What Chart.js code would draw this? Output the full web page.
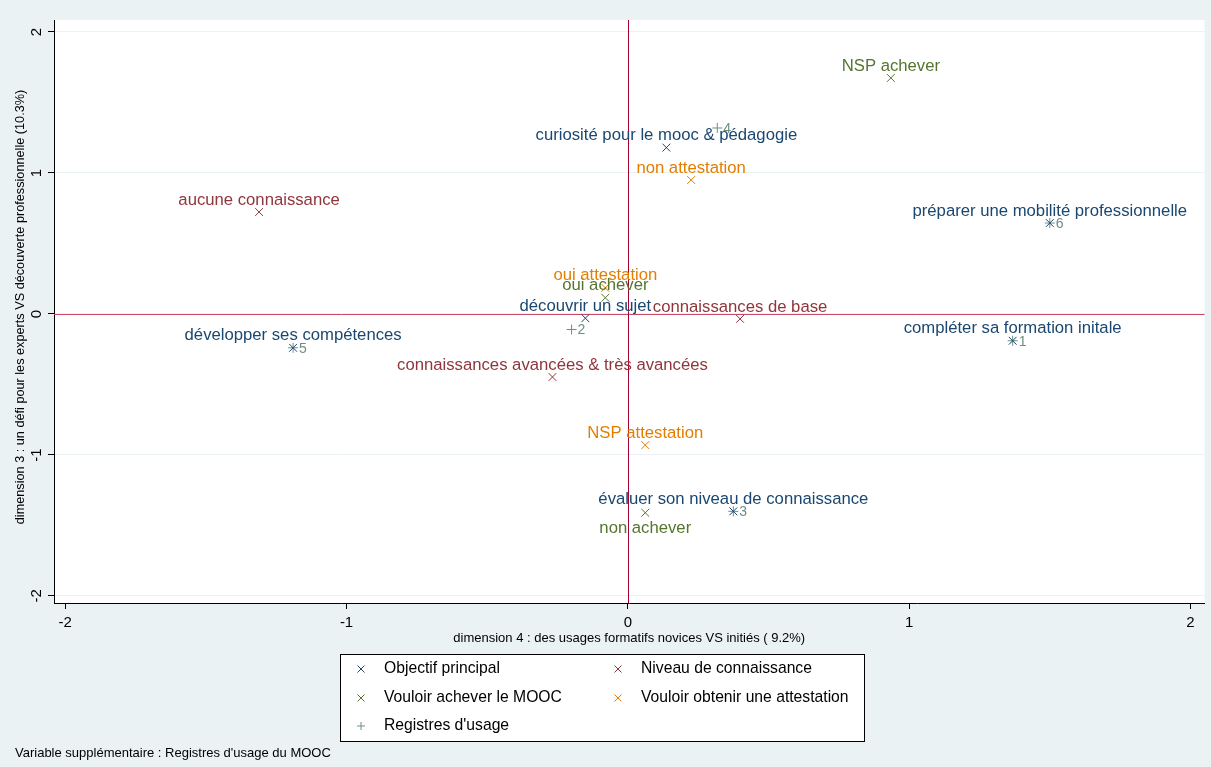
<!DOCTYPE html>
<html>
<head>
<meta charset="utf-8">
<script src="https://cdn.jsdelivr.net/npm/chart.js@4.4.0/dist/chart.umd.min.js"></script>
<style>
html, body { margin: 0; padding: 0; background: #eaf2f3; }
#wrap { width: 1211px; height: 767px; position: relative; }
</style>
</head>
<body>
<div id="wrap"><canvas id="acm" width="1211" height="767"></canvas></div>
<script>
// coordonnées ACM
const objLabels = ['curiosité pour le mooc & pédagogie', 'découvrir un sujet', 'préparer une mobilité professionnelle', 'compléter sa formation initale', 'développer ses compétences', 'évaluer son niveau de connaissance'];
const objX = [0.137, -0.151, 1.50, 1.368, -1.19, 0.375];
const objY = [1.18, -0.03, 0.645, -0.19, -0.24, -1.40];

const nivLabels = ['aucune connaissance', 'connaissances de base', 'connaissances avancées & très avancées'];
const nivX = [-1.311, 0.399, -0.268];
const nivY = [0.723, -0.035, -0.447];

const achLabels = ['NSP achever', 'oui achever', 'non achever'];
const achX = [0.935, -0.08, 0.062];
const achY = [1.674, 0.115, -1.41];
const achPos = [12, 12, 6];

const attLabels = ['non attestation', 'oui attestation', 'NSP attestation'];
const attX = [0.225, -0.08, 0.062];
const attY = [0.95, 0.185, -0.93];

const regLabels = ['1', '2', '3', '4', '5', '6'];
const regX = [1.368, -0.20, 0.375, 0.318, -1.19, 1.50];
const regY = [-0.19, -0.11, -1.40, 1.319, -0.24, 0.645];

const tickVals = [-2, -1, 0, 1, 2];

const legendNames = ['Objectif principal', 'Niveau de connaissance', 'Vouloir achever le MOOC', 'Vouloir obtenir une attestation', "Registres d'usage"];
const note = "Variable supplémentaire : Registres d'usage du MOOC";

const colors = ['#1a476f', '#90353b', '#55752f', '#e37e00', '#6e8e84'];
const sans = '"Liberation Sans", Arial, sans-serif';
const labelFont = '16.7px ' + sans;

const toPts = (xs, ys) => xs.map((x, i) => ({x: x, y: ys[i]}));

const groups = [
    {labels: objLabels, pts: toPts(objX, objY), pos: objLabels.map(() => 12), style: 'crossRot'},
    {labels: nivLabels, pts: toPts(nivX, nivY), pos: nivLabels.map(() => 12), style: 'crossRot'},
    {labels: achLabels, pts: toPts(achX, achY), pos: achPos, style: 'crossRot'},
    {labels: attLabels, pts: toPts(attX, attY), pos: attLabels.map(() => 12), style: 'crossRot'},
    {labels: regLabels, pts: toPts(regX, regY), pos: regLabels.map(() => 3), style: 'cross'}
];

const backdrop = {
    id: 'backdrop',
    beforeDraw(chart) {
        const {ctx, chartArea} = chart;
        ctx.save();
        ctx.fillStyle = '#eaf2f3';
        ctx.fillRect(0, 0, chart.width, chart.height);
        ctx.fillStyle = '#ffffff';
        ctx.fillRect(chartArea.left, chartArea.top, chartArea.right - chartArea.left, chartArea.bottom - chartArea.top);
        ctx.restore();
    },
    beforeDatasetsDraw(chart) {
        const {ctx, chartArea, scales} = chart;
        const x0 = Math.round(scales.x.getPixelForValue(0)) + 0.5;
        const y0 = Math.round(scales.y.getPixelForValue(0)) + 0.5;
        ctx.save();
        ctx.lineWidth = 1;
        ctx.strokeStyle = '#c94a66';
        ctx.beginPath();
        ctx.moveTo(chartArea.left, y0);
        ctx.lineTo(chartArea.right, y0);
        ctx.stroke();
        ctx.strokeStyle = '#a5002e';
        ctx.beginPath();
        ctx.moveTo(x0, chartArea.top);
        ctx.lineTo(x0, chartArea.bottom);
        ctx.stroke();
        ctx.restore();
    }
};

const pointLabels = {
    id: 'pointLabels',
    afterDatasetsDraw(chart) {
        const {ctx} = chart;
        ctx.save();
        groups.forEach((g, i) => {
            const meta = chart.getDatasetMeta(i);
            ctx.fillStyle = colors[i];
            meta.data.forEach((el, j) => {
                if (g.pos[j] == 3) {
                    ctx.font = '14px ' + sans;
                    ctx.textAlign = 'left';
                    ctx.textBaseline = 'middle';
                    ctx.fillText(g.labels[j], el.x + 6, el.y + 1);
                } else {
                    ctx.font = labelFont;
                    ctx.textAlign = 'center';
                    ctx.textBaseline = 'middle';
                    const dy = g.pos[j] == 6 ? 16 : -12;
                    ctx.fillText(g.labels[j], el.x, el.y + dy);
                }
            });
        });
        ctx.restore();
    }
};

const extras = {
    id: 'extras',
    afterDraw(chart) {
        const {ctx, scales} = chart;
        ctx.save();
        // y tick labels, tournés comme dans Stata
        ctx.fillStyle = '#000';
        ctx.font = '15px ' + sans;
        ctx.textAlign = 'center';
        ctx.textBaseline = 'middle';
        tickVals.forEach(v => {
            const py = scales.y.getPixelForValue(v);
            ctx.save();
            ctx.translate(37, py);
            ctx.rotate(-Math.PI / 2);
            ctx.fillText(String(v), 0, 0);
            ctx.restore();
        });
        // y title
        ctx.font = '12.7px ' + sans;
        ctx.save();
        ctx.translate(20, 307);
        ctx.rotate(-Math.PI / 2);
        ctx.fillText('dimension 3 : un défi pour les experts VS découverte professionnelle (10.3%)', 0, 0);
        ctx.restore();

        // légende
        const lx = 340, ly = 654, lw = 524, lh = 87;
        ctx.fillStyle = '#fff';
        ctx.fillRect(lx, ly, lw, lh);
        ctx.strokeStyle = '#000';
        ctx.lineWidth = 1;
        ctx.strokeRect(lx + 0.5, ly + 0.5, lw, lh);
        const cols = [361, 618];
        const rows = [669, 698, 726];
        legendNames.forEach((name, i) => {
            const mx = cols[i % 2], my = rows[Math.floor(i / 2)];
            ctx.strokeStyle = colors[i];
            ctx.beginPath();
            if (groups[i].style == 'cross') {
                ctx.moveTo(mx - 4, my); ctx.lineTo(mx + 4, my);
                ctx.moveTo(mx, my - 4); ctx.lineTo(mx, my + 4);
            } else {
                ctx.moveTo(mx - 3.5, my - 3.5); ctx.lineTo(mx + 3.5, my + 3.5);
                ctx.moveTo(mx + 3.5, my - 3.5); ctx.lineTo(mx - 3.5, my + 3.5);
            }
            ctx.stroke();
            ctx.fillStyle = '#000';
            ctx.font = '15.7px ' + sans;
            ctx.textAlign = 'left';
            ctx.textBaseline = 'middle';
            ctx.fillText(name, mx + 23, my);
        });

        // note
        ctx.font = '13px ' + sans;
        ctx.fillText(note, 15, 753);
        ctx.restore();
    }
};

new Chart('acm', {
    type: 'scatter',
    data: {
        datasets: groups.map((g, i) => ({
            label: legendNames[i],
            data: g.pts,
            pointStyle: g.style,
            pointRadius: g.style == 'cross' ? 5 : 5.5,
            borderColor: colors[i],
            backgroundColor: colors[i],
            pointBorderWidth: 1
        }))
    },
    options: {
        responsive: false,
        animation: false,
        layout: {padding: {left: 0, right: 4, top: 20, bottom: 117}},
        plugins: {
            legend: {display: false},
            tooltip: {enabled: false}
        },
        scales: {
            x: {
                min: -2.04, max: 2.05,
                afterBuildTicks: scale => { scale.ticks = tickVals.map(v => ({value: v})); },
                afterFit: scale => { scale.height = 47; },
                border: {color: '#000', width: 1},
                grid: {drawOnChartArea: false, tickColor: '#000', tickLength: 6},
                ticks: {color: '#000', font: {family: sans, size: 15}, padding: 5, maxRotation: 0},
                title: {
                    display: true,
                    text: 'dimension 4 : des usages formatifs novices VS initiés ( 9.2%)',
                    color: '#000',
                    font: {family: sans, size: 13},
                    padding: {top: 0}
                }
            },
            y: {
                min: -2.05, max: 2.085,
                afterBuildTicks: scale => { scale.ticks = tickVals.map(v => ({value: v})); },
                afterFit: scale => { scale.width = 54; },
                border: {color: '#000', width: 1},
                grid: {color: '#eaf2f3', tickColor: '#000', tickLength: 6},
                ticks: {display: false}
            }
        }
    },
    plugins: [backdrop, pointLabels, extras]
});
</script>
</body>
</html>
